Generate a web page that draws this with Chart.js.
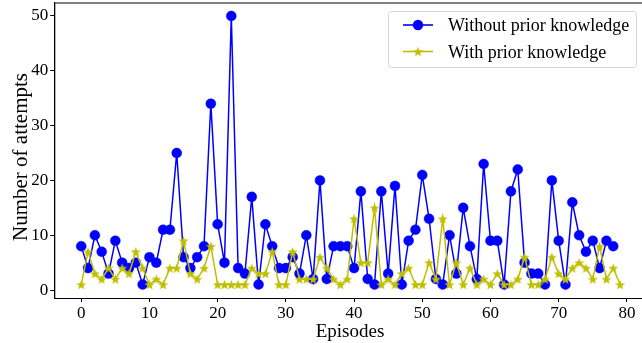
<!DOCTYPE html>
<html>
<head>
<meta charset="utf-8">
<script src="https://cdn.jsdelivr.net/npm/chart.js@4"></script>
<style>
  html, body { margin: 0; padding: 0; overflow: hidden; background: #fff; }
  canvas { display: block; }
</style>
</head>
<body>
<canvas id="attemptsChart" width="647" height="343"></canvas>
<script>
// data
const episodes = [0,1,2,3,4,5,6,7,8,9,10,11,12,13,14,15,16,17,18,19,
                  20,21,22,23,24,25,26,27,28,29,30,31,32,33,34,35,36,37,38,39,
                  40,41,42,43,44,45,46,47,48,49,50,51,52,53,54,55,56,57,58,59,
                  60,61,62,63,64,65,66,67,68,69,70,71,72,73,74,75,76,77,78,79];
const withoutPrior = [8,4,10,7,3,9,5,4,5,1, 6,5,11,11,25,6,4,6,8,34,
                      12,5,50,4,3,17,1,12,8,4, 4,6,3,10,2,20,2,8,8,8,
                      4,18,2,1,18,3,19,1,9,11, 21,13,2,1,10,3,15,8,2,23,
                      9,9,1,18,22,5,3,3,1,20, 9,1,16,10,7,9,4,9,8];
const withPrior = [1,7,3,2,4,2,4,3,7,4, 1,2,1,4,4,9,3,2,4,8,
                   1,1,1,1,1,4,3,3,7,1, 1,7,2,2,2,6,4,2,1,2,
                   13,5,5,15,1,2,1,3,4,1, 1,5,2,13,1,5,1,4,1,2,
                   1,3,1,1,2,6,1,1,2,6, 3,2,4,5,4,2,8,2,4,1];
const seriesNames = ['Without prior knowledge', 'With prior knowledge'];
const xTicks = [0,10,20,30,40,50,60,70,80];
const yTicks = [0,10,20,30,40,50];

const BLUE = '#0000ff';
const OLIVE = '#bfbf00';
const FONT = "'Liberation Serif', 'Times New Roman', serif";

// filled 5-point star used as point style
function makeStar(r, color) {
    const size = Math.ceil(r * 2 + 2);
    const c = document.createElement('canvas');
    c.width = size; c.height = size;
    const g = c.getContext('2d');
    g.beginPath();
    for (let i = 0; i < 10; i++) {
        const rad = i % 2 === 0 ? r : r * 0.42;
        const a = -Math.PI / 2 + i * Math.PI / 5;
        const px = size / 2 + rad * Math.cos(a);
        const py = size / 2 + rad * Math.sin(a) + r * 0.1;
        if (i === 0) g.moveTo(px, py); else g.lineTo(px, py);
    }
    g.closePath();
    g.fillStyle = color;
    g.fill();
    return c;
}
const star = makeStar(5.3, OLIVE);

function toPoints(vals) {
    return vals.map((v, i) => ({ x: episodes[i], y: v }));
}

// spines on all four sides + axis titles
const framePlugin = {
    id: 'frame',
    afterDatasetsDraw(chart) {
        const { ctx, chartArea: a } = chart;
        ctx.save();
        ctx.strokeStyle = '#000';
        ctx.lineWidth = 1;
        ctx.strokeRect(a.left + 0.5, a.top + 0.5, a.right - a.left, a.bottom - a.top);
        ctx.fillStyle = '#000';
        ctx.font = '19px ' + FONT;
        ctx.textAlign = 'center';
        ctx.textBaseline = 'alphabetic';
        ctx.fillText('Episodes', 350, 336.5);
        ctx.translate(26.5, 157);
        ctx.rotate(-Math.PI / 2);
        ctx.font = '21px ' + FONT;
        ctx.fillText('Number of attempts', 0, 0);
        ctx.restore();
    }
};

// matplotlib-like legend box (line + marker handles)
const legendPlugin = {
    id: 'mplLegend',
    afterDraw(chart) {
        const ctx = chart.ctx;
        const x0 = 388.5, y0 = 11.5, w = 248, h = 56, r = 3;
        ctx.save();
        ctx.beginPath();
        ctx.moveTo(x0 + r, y0);
        ctx.lineTo(x0 + w - r, y0);
        ctx.arcTo(x0 + w, y0, x0 + w, y0 + r, r);
        ctx.lineTo(x0 + w, y0 + h - r);
        ctx.arcTo(x0 + w, y0 + h, x0 + w - r, y0 + h, r);
        ctx.lineTo(x0 + r, y0 + h);
        ctx.arcTo(x0, y0 + h, x0, y0 + h - r, r);
        ctx.lineTo(x0, y0 + r);
        ctx.arcTo(x0, y0, x0 + r, y0, r);
        ctx.closePath();
        ctx.fillStyle = 'rgba(255,255,255,0.8)';
        ctx.fill();
        ctx.strokeStyle = '#d6d6d6';
        ctx.lineWidth = 1;
        ctx.stroke();

        const rows = [25, 51.5];
        const colors = [BLUE, OLIVE];
        rows.forEach((yy, i) => {
            ctx.strokeStyle = colors[i];
            ctx.lineWidth = 1.6;
            ctx.beginPath();
            ctx.moveTo(403, yy);
            ctx.lineTo(433, yy);
            ctx.stroke();
            if (i === 0) {
                ctx.fillStyle = BLUE;
                ctx.beginPath();
                ctx.arc(418, yy, 5.2, 0, Math.PI * 2);
                ctx.fill();
            } else {
                ctx.drawImage(star, 418 - star.width / 2, yy - star.height / 2);
            }
            ctx.fillStyle = '#000';
            ctx.font = '18px ' + FONT;
            ctx.textAlign = 'left';
            ctx.textBaseline = 'alphabetic';
            ctx.fillText(seriesNames[i], 448, yy + 6);
        });
        ctx.restore();
    }
};

const ctx = document.getElementById('attemptsChart').getContext('2d');

const attemptsChart = new Chart(ctx, {
    type: 'line',
    data: {
        datasets: [
            {
                label: seriesNames[0],
                data: toPoints(withoutPrior),
                borderColor: BLUE,
                backgroundColor: BLUE,
                borderWidth: 1.5,
                pointRadius: 5,
                pointBorderWidth: 0.4,
                pointBackgroundColor: BLUE,
                pointBorderColor: BLUE,
                tension: 0,
                order: 1
            },
            {
                label: seriesNames[1],
                data: toPoints(withPrior),
                borderColor: OLIVE,
                backgroundColor: OLIVE,
                borderWidth: 1.5,
                pointStyle: star,
                pointRadius: 5,
                tension: 0,
                order: 0
            }
        ]
    },
    options: {
        responsive: false,
        animation: false,
        events: [],
        layout: { autoPadding: false, padding: { left: 0, top: 2.5, right: 0, bottom: 0 } },
        plugins: {
            legend: { display: false },
            tooltip: { enabled: false }
        },
        scales: {
            x: {
                type: 'linear',
                min: -3.95,
                max: 82.95,
                afterFit(scale) {
                    scale.height = 45;
                    scale.paddingLeft = 0;
                    scale.paddingRight = 0;
                },
                afterBuildTicks(scale) { scale.ticks = xTicks.map(v => ({ value: v })); },
                grid: { drawOnChartArea: false, drawTicks: true, tickLength: 4, color: '#000', lineWidth: 1 },
                border: { display: true, color: '#000', width: 1 },
                ticks: {
                    color: '#000',
                    padding: 1,
                    maxRotation: 0,
                    autoSkip: false,
                    font: { family: FONT, size: 17 }
                }
            },
            y: {
                min: -1.45,
                max: 52.45,
                afterFit(scale) {
                    scale.width = 54.3;
                    scale.paddingTop = 0;
                    scale.paddingBottom = 0;
                },
                afterBuildTicks(scale) { scale.ticks = yTicks.map(v => ({ value: v })); },
                grid: { drawOnChartArea: false, drawTicks: true, tickLength: 4, color: '#000', lineWidth: 1 },
                border: { display: true, color: '#000', width: 1 },
                ticks: {
                    color: '#000',
                    padding: 2,
                    font: { family: FONT, size: 17 }
                }
            }
        }
    },
    plugins: [framePlugin, legendPlugin]
});
</script>
</body>
</html>
